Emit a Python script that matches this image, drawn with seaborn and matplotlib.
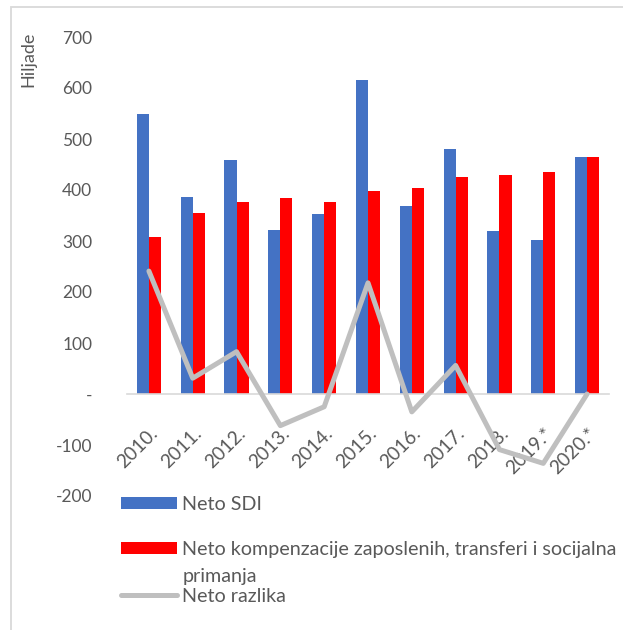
import numpy as np
import pandas as pd
import matplotlib
matplotlib.use("Agg")
import matplotlib.pyplot as plt
import seaborn as sns
from matplotlib.patches import Patch, Rectangle
from matplotlib.lines import Line2D

years = ["2010.", "2011.", "2012.", "2013.", "2014.", "2015.", "2016.", "2017.", "2018.", "2019.*", "2020.*"]
neto_sdi = [549, 387, 459, 321, 352, 616, 369, 481, 320, 302, 465]
neto_komp = [308, 355, 376, 385, 376, 398, 403, 425, 429, 436, 465]
neto_razlika = [241, 31, 83, -62, -25, 218, -35, 56, -109, -136, 0]

lbl_sdi = "Neto SDI"
lbl_komp = "Neto kompenzacije zaposlenih, transferi i socijalna"
lbl_komp2 = "primanja"
lbl_razl = "Neto razlika"

sns.set_theme(style="white")
plt.rcParams['font.family'] = ['Lato', 'DejaVu Sans']

df = pd.DataFrame({
    "year": years * 2,
    "value": neto_sdi + neto_komp,
    "series": [lbl_sdi] * len(years) + [lbl_komp] * len(years),
})

fig = plt.figure(figsize=(6.23, 6.30), dpi=100)
ax = fig.add_axes([127/623, 1 - 496/630, (609 - 127)/623, (496 - 37)/630])

blue = "#4472C4"
red = "#FF0000"
gray = "#BFBFBF"
txt = "#595959"

sns.barplot(data=df, x="year", y="value", hue="series", palette=[blue, red],
            width=0.55, ax=ax, legend=False, saturation=1, edgecolor="none")
sns.lineplot(x=np.arange(len(years)), y=neto_razlika, ax=ax, color=gray,
             linewidth=3.6, legend=False, solid_capstyle="round", zorder=5)

ax.set_ylim(-200, 700)
ax.set_xlim(-0.5, len(years) - 0.5)
ax.set_yticks(np.arange(-200, 701, 100))
ax.set_yticklabels([str(v) if v != 0 else "-" for v in range(-200, 701, 100)])
ax.set_xlabel("")
ax.set_ylabel("")
for s in ["top", "right", "left"]:
    ax.spines[s].set_visible(False)
ax.spines["bottom"].set_position(("data", 0))
ax.spines["bottom"].set_color("#D9D9D9")
ax.spines["bottom"].set_linewidth(1.2)
ax.spines["bottom"].set_zorder(1)
ax.tick_params(axis="y", length=0, labelsize=12.5, labelcolor=txt, pad=25)
ax.tick_params(axis="x", length=0, labelsize=13.8, labelcolor=txt, pad=22)
for t in ax.get_xticklabels():
    t.set_rotation(45)
    t.set_ha("right")
    t.set_va("top")
    t.set_rotation_mode("anchor")
ax.grid(False)

fig.text(28/623, 1 - 32/630, "Hiljade", rotation=90, ha="center", va="top",
         fontsize=13, color=txt)

# frame
fig.patches.append(Rectangle((11/623, -0.1), 1.2, 1 - 7/630 + 0.1, transform=fig.transFigure,
                             fill=False, edgecolor="#D9D9D9", linewidth=1.3))

h1 = Patch(facecolor=blue, edgecolor="none")
h2 = Patch(facecolor=red, edgecolor="none")
h2b = Patch(facecolor="none", edgecolor="none")
h3 = Line2D([0], [0], color=gray, linewidth=3.6, solid_capstyle="round")
common = dict(frameon=False, fontsize=14.2, handlelength=2.85, handleheight=0.6,
              handletextpad=0.25, borderpad=0, borderaxespad=0, loc="upper left",
              labelspacing=0.5)
l1 = fig.legend([h1], [lbl_sdi], bbox_to_anchor=(121/623, 1 - 496/630), **common)
l2 = fig.legend([h2, h2b], [lbl_komp, lbl_komp2], bbox_to_anchor=(121/623, 1 - 541/630), **common)
l3 = fig.legend([h3], [lbl_razl], bbox_to_anchor=(121/623, 1 - 588/630), **common)
for l in (l1, l2, l3):
    for t in l.get_texts():
        t.set_color(txt)

fig.savefig("out.png", dpi=100, facecolor="white")
